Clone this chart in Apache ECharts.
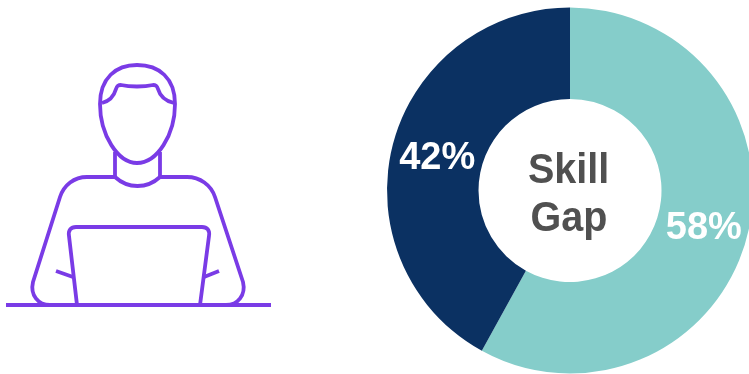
<!DOCTYPE html>
<html>
<head>
<meta charset="utf-8">
<style>html,body{margin:0;padding:0;background:#fff}#chart{width:749px;height:374px}</style>
<script src="https://cdn.jsdelivr.net/npm/echarts@6/dist/echarts.min.js"></script>
</head>
<body>
<div id="chart"></div>
<script>
// Donut shares, clockwise from twelve o'clock
const categories = ['Skill', 'Gap'];
const shares = [58, 42];
const sliceColors = ['#85CDCA', '#0B3162'];
const labelOffsets = [[-2, 3], [3, 3]];
const centerLines = ['Skill', 'Gap'];

// Line icon: person seated at a laptop
const iconColor = '#7A3BE6';
const iconPaths = [
  'M100,104C100,78 116,65 137,65C159,65 175,78 175,104C175,135 157,163 137,163C118,163 100,135 100,104Z',
  'M102,103C110,101 114,96 116,89C117,86 118,85 121,85C130,87 144,87 153,85C156,85 157,86 158,89C160,96 165,101 174,103',
  'M115,152L115,177M160,152L160,177',
  'M115,177C128,189 147,189 160,177',
  'M115,177L87,177C74,177 64,185 60,197L33,282C30,295 38,305 50,305',
  'M160,177L187,177C200,177 211,185 215,197L243,282C246,295 238,305 226,305',
  'M77,305L69,236C68,230 71,227 76,227L202,227C207,227 210,230 209,236L200,305',
  'M56,271L73,277M219,271L204,277',
  'M6,305L271,305'
];

// The graphic component only knows registered shapes, so each outline gets its own
iconPaths.forEach((d, i) => {
  echarts.graphic.registerShape('iconPart' + i, echarts.graphic.extendPath(d, {}));
});

const chart = echarts.init(document.getElementById('chart'), null, { renderer: 'canvas' });
chart.setOption({
  animation: false,
  backgroundColor: '#ffffff',
  series: [{
    type: 'pie',
    center: [570, 190.5],
    radius: [91.5, 183],
    startAngle: 90,
    clockwise: true,
    avoidLabelOverlap: false,
    silent: true,
    data: categories.map((name, i) => ({
      name,
      value: shares[i],
      itemStyle: { color: sliceColors[i] },
      label: { offset: labelOffsets[i] }
    })),
    label: {
      show: true,
      position: 'inside',
      formatter: p => p.value + '%',
      color: '#ffffff',
      fontFamily: 'Liberation Sans',
      fontWeight: 'bold',
      fontSize: 38
    },
    labelLine: { show: false }
  }],
  graphic: [
    ...iconPaths.map((d, i) => ({
      type: 'iconPart' + i,
      silent: true,
      style: { fill: 'none', stroke: iconColor, lineWidth: 3.8, lineJoin: 'round', lineCap: 'butt' }
    })),
    {
      type: 'text',
      x: 568.5,
      y: 171.5,
      scaleX: 0.94,
      silent: true,
      style: {
        text: centerLines[0],
        align: 'center',
        verticalAlign: 'middle',
        fill: '#505050',
        font: 'bold 42px "Liberation Sans"'
      }
    },
    {
      type: 'text',
      x: 569,
      y: 219,
      scaleX: 0.94,
      silent: true,
      style: {
        text: centerLines[1],
        align: 'center',
        verticalAlign: 'middle',
        fill: '#505050',
        font: 'bold 42px "Liberation Sans"'
      }
    }
  ]
});
</script>
</body>
</html>
